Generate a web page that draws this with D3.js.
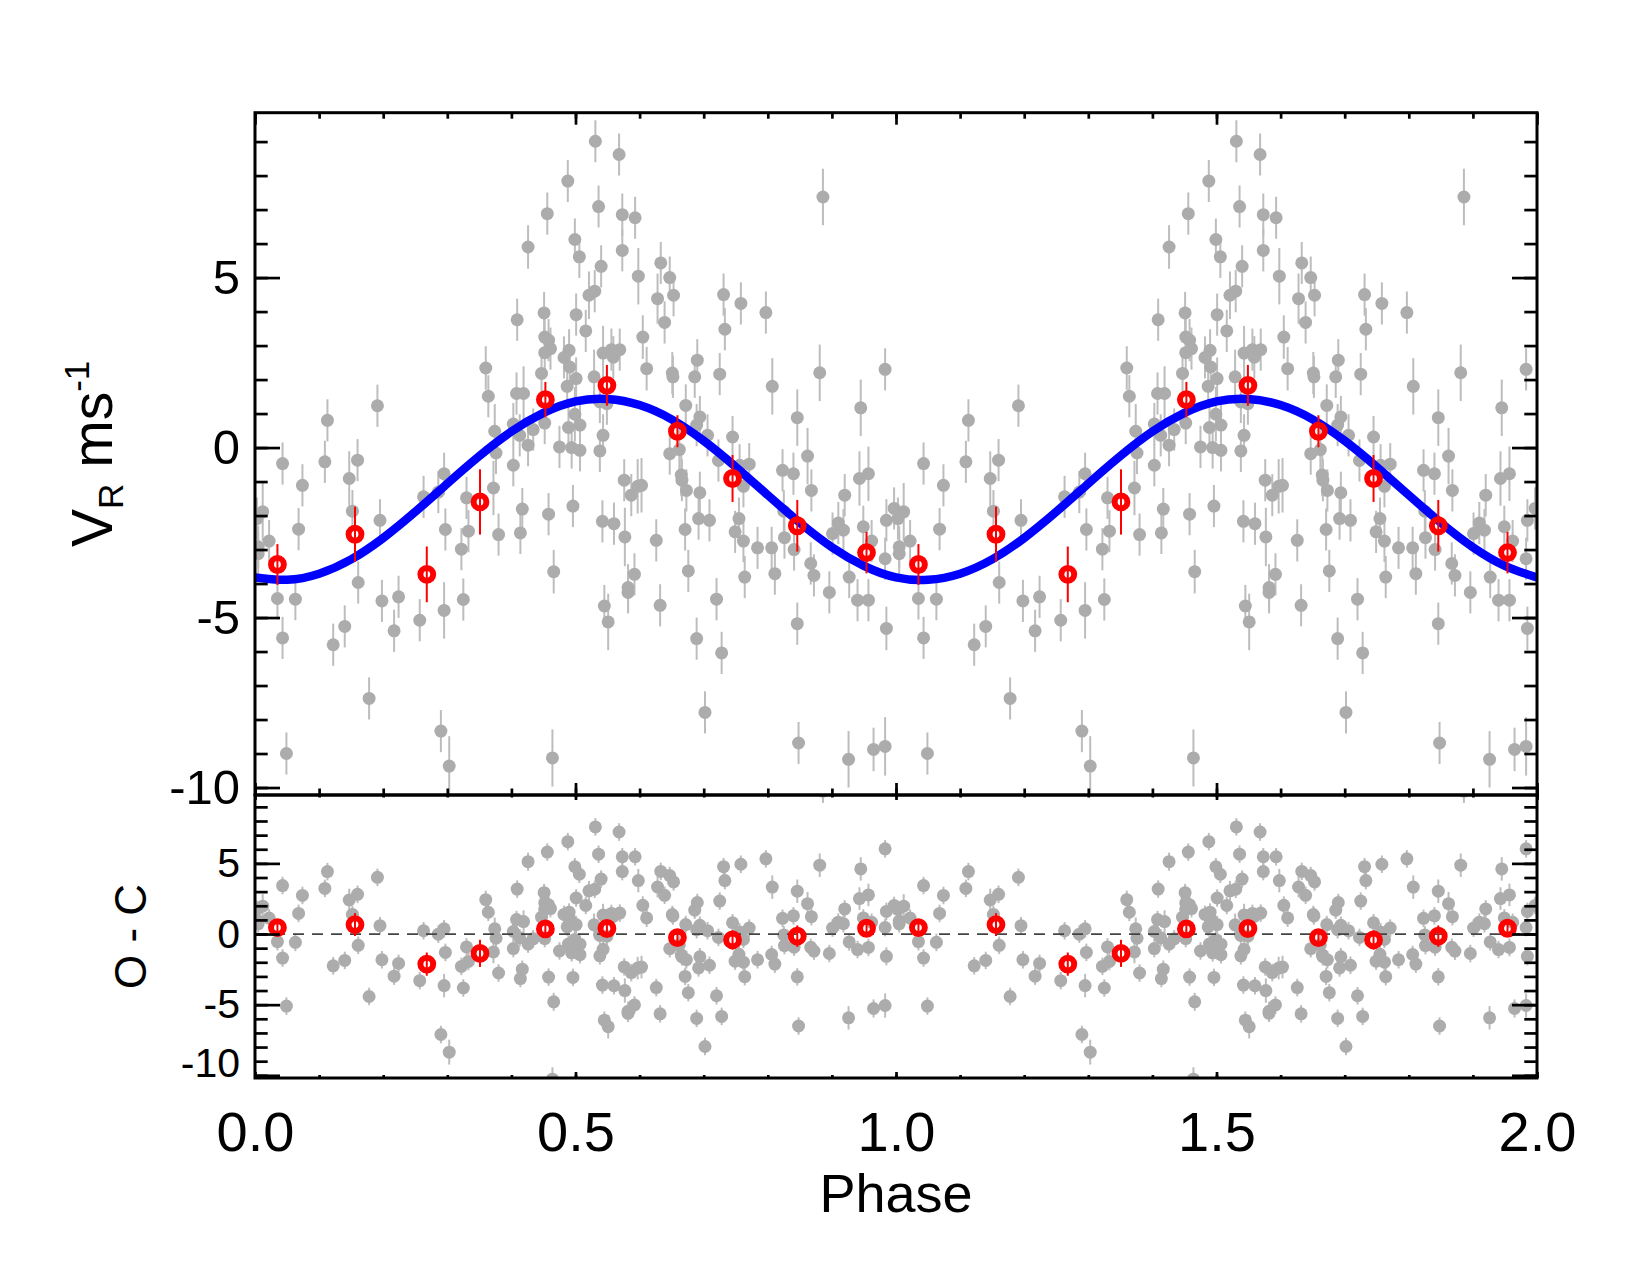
<!DOCTYPE html>
<html><head><meta charset="utf-8">
<script src="https://cdn.jsdelivr.net/npm/d3@7"></script>
<style>
body{margin:0;background:#fff;}
text{font-family:"Liberation Sans",Arial,Helvetica,sans-serif;}
</style></head>
<body><svg id="chart" width="1650" height="1275"></svg>
<script>
// ---------- data (one cycle, phase 0..1; plotted twice) ----------
const phase = [
0.043,0.109,0.160,0.147,0.074,0.012,0.003,0.152,0.195,0.068,
0.022,0.005,0.005,0.035,0.063,0.161,0.198,0.224,0.217,0.140,
0.122,0.043,0.178,0.049,0.257,0.295,0.325,0.290,0.303,0.263,
0.286,0.295,0.297,0.322,0.330,0.333,0.113,0.191,
0.531,0.568,0.488,0.456,0.536,0.573,0.593,0.426,0.499,0.506,
0.573,0.540,0.633,0.598,0.647,0.521,0.530,0.628,0.653,0.409,
0.451,0.501,0.516,0.639,0.605,0.452,0.458,0.461,0.452,0.490,
0.482,0.491,0.543,0.556,0.559,0.569,0.360,0.611,0.651,0.652,
0.447,0.501,0.529,0.487,0.364,0.408,0.419,0.672,0.538,0.549,
0.499,0.452,0.507,0.489,0.403,0.434,0.374,0.413,0.543,0.426,
0.475,0.494,0.507,0.538,0.376,0.647,0.662,
0.403,0.372,0.380,0.414,0.417,0.458,0.496,0.576,0.587,0.597,
0.603,0.665,0.666,0.673,0.542,0.560,0.577,0.626,0.671,0.466,
0.592,0.582,0.582,0.545,0.551,0.632,0.676,0.464,
0.886,0.731,0.758,0.797,0.733,0.690,0.686,0.725,0.807,0.881,
0.983,0.945,0.846,0.694,0.689,0.706,0.745,0.862,0.723,
0.756,0.771,0.823,0.840,0.762,0.694,0.868,0.920,0.943,0.957,
0.692,0.709,0.755,0.749,0.762,0.784,0.806,0.825,0.826,0.841,
0.867,0.872,0.901,0.910,0.918,0.949,0.962,0.983,0.985,0.997,
0.764,0.811,0.896,0.927,0.940,0.957,0.985,0.720,0.846,0.689,
0.728,0.702,0.848,0.926,0.965,0.983];

const radialVelocity = [
-0.47,-0.42,-0.37,-0.91,-1.11,-1.89,-2.09,-1.87,-2.14,-2.40,
-2.75,-2.92,-3.12,-4.44,-4.46,-3.97,-4.51,-4.39,-5.39,-5.26,
-5.80,-5.60,-7.38,-9.00,-5.08,-4.79,-4.47,-8.34,-9.37,-1.45,
-1.31,-0.77,-2.41,-2.99,-1.48,-2.46,0.80,1.23,
9.01,8.62,7.84,6.88,7.09,6.85,6.76,5.90,6.12,5.61,
5.80,5.33,5.43,5.04,5.00,4.48,4.60,4.38,4.48,3.76,
3.96,3.91,3.43,3.68,3.25,3.25,3.16,2.91,2.79,2.86,
2.65,2.37,2.78,2.88,2.66,2.88,2.34,2.32,2.19,2.08,
2.18,2.03,2.08,1.80,1.51,1.59,1.59,1.24,1.34,1.29,
0.98,0.72,0.66,0.59,0.69,0.53,0.48,0.36,0.36,0.07,
0.02,0.00,-0.08,-0.10,-0.16,-0.18,-0.06,
-0.52,-1.19,-2.56,-2.51,-1.81,-1.96,-1.72,-0.96,-1.40,-1.14,
-1.11,-0.81,-0.96,-1.26,-2.17,-2.24,-2.63,-2.73,-2.41,-3.65,
-3.73,-4.12,-4.26,-4.66,-5.13,-4.64,-3.63,-9.13,
7.37,4.50,4.24,3.97,3.48,2.57,2.08,2.16,1.80,2.20,
2.30,1.17,0.88,0.90,0.66,0.36,0.31,-0.25,-0.38,
-0.52,-0.49,-0.67,-0.77,-1.14,-1.33,-1.26,-1.40,-0.91,-0.77,
-2.09,-2.14,-2.09,-2.48,-2.75,-2.95,-2.95,-1.87,-2.65,-3.00,
-3.41,-3.76,-2.53,-2.22,-2.43,-2.33,-2.75,-3.27,-2.14,-1.79,
-3.81,-3.71,-4.26,-3.81,-4.49,-4.49,-5.32,-4.46,-5.18,-5.62,
-6.04,-7.79,-8.69,-9.17,-8.88,-8.79];

const velocityError = [
0.62,0.62,0.62,0.80,0.62,0.85,0.62,0.62,0.62,0.62,
0.62,0.62,0.62,0.62,0.62,0.62,0.62,0.62,0.62,0.62,
0.62,0.62,0.62,0.62,0.62,0.83,0.62,0.62,0.88,0.62,
0.62,0.62,0.62,0.62,0.62,0.62,0.62,0.62,
0.62,0.62,0.62,0.62,0.62,0.62,0.62,0.64,0.62,0.62,
0.62,0.62,0.62,0.83,0.62,0.70,0.62,0.74,0.62,0.62,
0.62,0.62,0.62,0.62,0.64,0.62,0.62,0.62,0.62,0.62,
0.62,0.62,0.80,0.62,0.62,0.62,0.64,0.64,0.62,0.62,
0.62,0.62,0.80,0.62,0.62,0.62,0.80,0.62,0.62,0.62,
0.80,0.62,0.62,0.62,0.62,0.62,0.80,0.62,0.62,0.62,
0.62,0.62,0.62,0.62,0.62,0.62,0.80,
0.62,0.80,0.62,0.62,0.62,0.62,0.62,0.62,0.62,0.80,
0.80,0.62,0.62,0.62,0.62,0.62,0.86,0.62,0.62,0.64,
0.62,0.69,0.62,0.62,0.83,0.62,0.62,0.84,
0.83,0.62,0.62,0.62,0.62,0.62,0.62,0.62,0.83,0.83,
0.62,0.83,0.83,0.62,0.62,0.62,0.62,0.83,0.62,
0.62,0.62,0.62,0.62,0.62,0.62,0.62,0.62,0.80,0.80,
0.62,0.62,0.62,0.62,0.62,0.62,0.62,0.62,0.62,0.62,
0.62,0.62,0.62,0.62,0.62,0.62,0.62,0.62,0.62,0.62,
0.62,0.62,0.62,0.62,0.62,0.62,0.64,0.62,0.62,0.62,
0.62,0.62,0.62,0.83,0.64,0.86];

const residual = [
3.43,3.23,2.81,2.41,2.73,1.97,1.74,1.39,0.59,1.46,
1.13,0.92,0.72,-0.54,-0.59,-0.80,-1.82,-2.08,-2.98,-1.87,
-2.25,-1.70,-4.42,-5.10,-3.30,-3.65,-3.82,-7.11,-8.36,0.23,
-0.01,0.37,-1.30,-2.29,-0.91,-1.94,4.42,4.01,
7.58,7.22,6.54,5.80,5.65,5.47,5.47,5.12,4.76,4.23,
4.42,3.89,4.43,3.78,4.14,3.06,3.17,3.33,3.69,3.18,
2.93,2.55,2.02,2.74,2.03,2.21,2.07,1.80,1.75,1.55,
1.39,1.06,1.34,1.46,1.24,1.48,2.43,1.14,1.38,1.28,
1.19,0.67,0.65,0.51,1.54,1.02,0.88,0.67,-0.10,-0.15,
-0.38,-0.32,-0.72,-0.71,0.18,-0.34,0.37,-0.27,-1.08,-0.71,
-1.20,-1.33,-1.46,-1.54,-0.30,-1.04,-0.76,
-1.03,-1.27,-2.76,-3.15,-2.49,-3.05,-3.07,-2.33,-2.73,-2.41,
-2.34,-1.47,-1.61,-1.82,-3.61,-3.66,-4.00,-3.79,-3.00,-4.80,
-5.02,-5.47,-5.61,-6.10,-6.56,-5.65,-4.15,-10.27,
10.11,4.77,4.94,5.32,3.78,2.23,1.69,2.33,3.32,4.87,
6.03,4.61,3.03,0.62,0.31,0.24,0.80,2.15,-0.24,
0.15,0.42,1.11,1.29,-0.38,-1.61,1.23,1.78,2.51,2.77,
-2.40,-2.21,-1.44,-1.92,-1.99,-1.82,-1.45,-0.06,-0.82,-0.93,
-0.94,-1.21,0.42,0.84,0.73,1.14,0.83,0.46,1.60,2.02,
-3.02,-2.13,-1.38,-0.56,-1.10,-0.95,-1.58,-4.37,-3.03,-5.97,
-5.83,-7.96,-6.51,-5.93,-5.27,-5.06];

// binned (red) points
const binPhase = [0.035,0.156,0.268,0.351,0.453,0.549,0.659,0.745,0.846,0.954];
const binVelocity = [-3.44,-2.55,-3.73,-1.60,1.41,1.83,0.48,-0.91,-2.30,-3.09];
const binError = [0.60,0.81,0.82,0.96,0.52,0.60,0.47,0.69,0.76,0.61];
const binResidual = [0.46,0.67,-2.13,-1.37,0.36,0.39,-0.25,-0.42,-0.15,0.41];

// fitted model curve, read at phase steps of 0.05
const modelPhase = [0,0.05,0.10,0.15,0.20,0.25,0.30,0.35,0.40,0.45,0.50,0.55,0.60,0.65,0.70,0.75,0.80,0.85,0.90,0.95,1.00];
const modelVelocity = [-3.82,-3.89,-3.71,-3.29,-2.66,-1.89,-1.06,-0.25,0.47,1.02,1.36,1.43,1.25,0.83,0.20,-0.57,-1.40,-2.21,-2.93,-3.48,-3.82];

const cycles = [0,1];
const xTickValues = [0,0.5,1.0,1.5,2.0];
const xTickLabels = ["0.0","0.5","1.0","1.5","2.0"];
const yTickValues = [-10,-5,0,5];
const yTickLabels = ["-10","-5","0","5"];

// ---------- layout ----------
const L=255, R=1537, T=112.7, MID=795, B=1078;
const svg = d3.select("#chart");
const x = d3.scaleLinear().domain([0,2]).range([L,R]);
const yV = d3.scaleLinear().domain([-10.22,9.85]).range([MID,T]);
const yO = d3.scaleLinear().domain([-10.19,9.84]).range([B,MID]);

const defs = svg.append("defs");
defs.append("clipPath").attr("id","clipMain").append("rect")
  .attr("x",L).attr("y",T).attr("width",R-L).attr("height",MID-T);
defs.append("clipPath").attr("id","clipRes").append("rect")
  .attr("x",L).attr("y",MID).attr("width",R-L).attr("height",B-MID);

const GRAY_PT="#acacac", GRAY_ERR="#bdbdbd", RED="#ff0000", BLUE="#0000ff";

function drawPanel(clipId, y, vals, binVals, withModel){
  const g = svg.append("g").attr("clip-path",`url(#${clipId})`);
  const pts = cycles.flatMap(c => phase.map((p,i)=>({x:p+c, y:vals[i], e:velocityError[i]})));
  g.append("g").selectAll("line").data(pts).join("line")
    .attr("x1",d=>x(d.x)).attr("x2",d=>x(d.x))
    .attr("y1",d=>y(d.y-d.e)).attr("y2",d=>y(d.y+d.e))
    .attr("stroke",GRAY_ERR).attr("stroke-width",2);
  g.append("g").selectAll("circle").data(pts).join("circle")
    .attr("cx",d=>x(d.x)).attr("cy",d=>y(d.y)).attr("r",6.5)
    .attr("fill",GRAY_PT);
  if(withModel){
    const curve = cycles.flatMap(c => modelPhase.map((p,i)=>({x:p+c,y:modelVelocity[i]}))
      .filter(d => !(c>0 && d.x===c)));
    g.append("path").datum(curve)
      .attr("d", d3.line().x(d=>x(d.x)).y(d=>y(d.y)).curve(d3.curveNatural))
      .attr("fill","none").attr("stroke",BLUE).attr("stroke-width",8.5);
  } else {
    g.append("line").attr("x1",L).attr("x2",R).attr("y1",y(0)).attr("y2",y(0))
      .attr("stroke","#444").attr("stroke-width",1.8).attr("stroke-dasharray","11,8");
  }
  const bins = cycles.flatMap(c => binPhase.map((p,i)=>({x:p+c, y:binVals[i], e:binError[i]})));
  g.append("g").selectAll("line").data(bins).join("line")
    .attr("x1",d=>x(d.x)).attr("x2",d=>x(d.x))
    .attr("y1",d=>y(d.y-d.e)).attr("y2",d=>y(d.y+d.e))
    .attr("stroke",RED).attr("stroke-width",2);
  g.append("g").selectAll("circle").data(bins).join("circle")
    .attr("cx",d=>x(d.x)).attr("cy",d=>y(d.y)).attr("r",6.4)
    .attr("fill","none").attr("stroke",RED).attr("stroke-width",6);
}

drawPanel("clipMain", yV, radialVelocity, binVelocity, true);
drawPanel("clipRes", yO, residual, binResidual, false);

// ---------- axes ----------
const minorY = d3.range(-10,10,1);
const minorX = d3.range(0,2.001,0.1).map(v=>+v.toFixed(1));
function styleAxis(sel, fontSize){
  sel.select(".domain").remove();
  sel.selectAll(".tick line").attr("stroke","#000").attr("stroke-width",2.7);
  sel.selectAll("text").attr("fill","#000").style("font-size",fontSize+"px")
     .style("font-family",'"Liberation Sans",Arial,Helvetica,sans-serif');
}
function yAxes(y, labelSize, lastLabelShift){
  const vis = v => v>=y.domain()[0] && v<=y.domain()[1];
  svg.append("g").attr("transform",`translate(${L},0)`)
    .call(d3.axisLeft(y).tickValues(minorY.filter(vis)).tickSize(-12.7).tickFormat(""))
    .call(s=>styleAxis(s,labelSize));
  svg.append("g").attr("transform",`translate(${L},0)`)
    .call(d3.axisLeft(y).tickValues(yTickValues).tickSize(-25).tickPadding(15)
      .tickFormat((d,i)=>yTickLabels[i]))
    .call(s=>styleAxis(s,labelSize))
    .call(s=>s.selectAll(".tick text").filter(d=>d===-10).attr("y",lastLabelShift));
  svg.append("g").attr("transform",`translate(${R},0)`)
    .call(d3.axisRight(y).tickValues(minorY.filter(vis)).tickSize(-12.7).tickFormat(""))
    .call(s=>styleAxis(s,labelSize));
  svg.append("g").attr("transform",`translate(${R},0)`)
    .call(d3.axisRight(y).tickValues(yTickValues).tickSize(-25).tickFormat(""))
    .call(s=>styleAxis(s,labelSize));
}
function xAxes(yPos, dir, minorLen, majorLen, labels){
  const ax = dir==="top" ? d3.axisTop : d3.axisBottom;
  svg.append("g").attr("transform",`translate(0,${yPos})`)
    .call(ax(x).tickValues(minorX).tickSize(-minorLen).tickFormat(""))
    .call(s=>styleAxis(s,10));
  const major = ax(x).tickValues(xTickValues).tickSize(-majorLen);
  if(labels) major.tickPadding(33).tickFormat((d,i)=>xTickLabels[i]);
  else major.tickFormat("");
  svg.append("g").attr("transform",`translate(0,${yPos})`)
    .call(major).call(s=>styleAxis(s,56));
}
yAxes(yV, 49, 0);
yAxes(yO, 41, -12);
xAxes(T, "top", 6, 12, false);
xAxes(MID, "bottom", 6.5, 12, false);
xAxes(MID, "top", 2.5, 5, false);
xAxes(B, "bottom", 3, 6, true);

// frames
svg.append("rect").attr("x",L).attr("y",T).attr("width",R-L).attr("height",MID-T)
  .attr("fill","none").attr("stroke","#000").attr("stroke-width",3);
svg.append("rect").attr("x",L).attr("y",MID).attr("width",R-L).attr("height",B-MID)
  .attr("fill","none").attr("stroke","#000").attr("stroke-width",3);

// axis titles
const yTitle = svg.append("text").attr("transform",`translate(112,${(T+MID)/2}) rotate(-90)`)
  .attr("text-anchor","middle").style("font-size","57px").attr("fill","#000");
yTitle.append("tspan").text("V");
yTitle.append("tspan").text("R").style("font-size","35px").attr("dy",11);
yTitle.append("tspan").text(" ms").attr("dy",-11);
yTitle.append("tspan").text("-1").style("font-size","35px").attr("dy",-23);

svg.append("text").attr("transform",`translate(146,${(MID+B)/2}) rotate(-90)`)
  .attr("text-anchor","middle").style("font-size","44px").attr("fill","#000").text("O - C");

svg.append("text").attr("x",x(1)).attr("y",1212).attr("text-anchor","middle")
  .style("font-size","54px").attr("fill","#000").text("Phase");
</script></body></html>
